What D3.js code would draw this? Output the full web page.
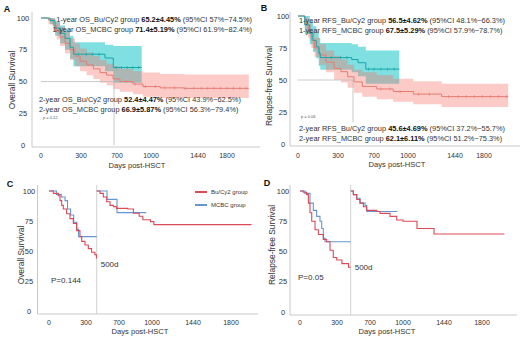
<!DOCTYPE html>
<html>
<head>
<meta charset="utf-8">
<script src="https://cdn.jsdelivr.net/npm/d3@7"></script>
<style>
  body { margin: 0; background: #fff; }
  svg { display: block; font-family: "Liberation Sans", Arial, sans-serif; }
</style>
</head>
<body>
<div id="chart"></div>
<script>
// ---- values (days post-HSCT, survival %) ----
var tickDays = [0, 300, 700, 1000, 1440, 1800];
var yTicks = [0, 25, 50, 75, 100];

// A: overall survival  [day, estimate, lower CI, upper CI]
var osBuCy2 = [[0,100,100,100],[13,100,100,100],[55,98.5,95,100],[92,94,89,99],[117,89,83,96],[143,85,78,93],[180,80,72,89],[218,75,67,84],[255,70,62,80],[293,66,58,76],[363,63,55,73],[437,60,52,70],[511,57,49,67],[585,55,47,64],[656,52,44,62],[726,50,42,60],[841,48,40,58],[929,46,38,57],[1086,45,37,56],[1306,44.6,37,55.5],[2070,44.6,37,55.5]];
var osMCBC = [[0,100,100,100],[68,98,95,100],[105,92,86,97],[143,88,80,94],[180,84,75,91],[218,77,68,86],[243,71.5,62,81],[567,68.5,58,79],[659,61,49,78],[918,61,49,78]];
var osBuCens = [780, 860, 950, 1040, 1130, 1220, 1320, 1400, 1480, 1560, 1640, 1720, 1800, 1880, 1960, 2040];
var osMCBCCens = [280, 360, 430, 500, 690, 740, 790, 840, 890];
var osMedianDay = 667;

// B: relapse-free survival
var rfsBuCy2 = [[0,100,100,100],[51,94,90,99],[76,88,83,94],[100,81,75,88],[124,75,68,83],[161,69.5,62,78],[210,64,56,73],[271,59,50,69],[333,56.5,48,66],[407,52.5,44,62],[478,48.5,40,58],[570,45,37,56],[724,43,35,54],[870,41,33,51],[1050,39,31,49],[1315,37,29,47],[2100,37,29,47]];
var rfsMCBC = [[0,100,100,100],[15,100,100,100],[51,93,86,100],[88,86.5,78,96],[112,81,72,92],[137,76,67,88],[156,71,61,83],[167,67.5,58,79],[452,66,56,78],[523,63.5,53,76],[609,58.5,47,73],[923,58.5,47,73]];
var rfsBuCens = [760, 840, 930, 1100, 1200, 1380, 1480, 1580, 1680, 1780, 1880, 1980, 2080];
var rfsMCBCCens = [250, 330, 400, 640, 700, 760, 820, 880];
var rfsMedianDay = 467;

var osNotesTop = [["1-year OS_Bu/Cy2 group ", "65.2±4.45%", " (95%CI 57%~74.5%)"],
                  ["1-year OS_MCBC group ", "71.4±5.19%", " (95%CI 61.9%~82.4%)"]];
var osNotesBottom = [["2-year OS_Bu/Cy2 group ", "52.4±4.47%", " (95%CI 43.9%~62.5%)"],
                     ["2-year OS_MCBC group ", "66.9±5.87%", " (95%CI 56.3%~79.4%)"]];
var rfsNotesTop = [["1-year RFS_Bu/Cy2 group ", "56.5±4.62%", " (95%CI 48.1%~66.3%)"],
                   ["1-year RFS_MCBC group ", "67.5±5.29%", " (95%CI 57.9%~78.7%)"]];
var rfsNotesBottom = [["2-year RFS_Bu/Cy2 group ", "45.6±4.69%", " (95%CI 37.2%~55.7%)"],
                      ["2-year RFS_MCBC group ", "62.1±6.11%", " (95%CI 51.2%~75.3%)"]];

// C / D: landmark analysis split at 500d  [day, survival]
var osCutDay = 430;
var osBuEarly = [[0,100],[35,98],[76,96],[89,92],[103,88],[116,85],[143,81],[170,77],[197,73],[224,67],[251,62],[265,58],[292,55],[328,52],[368,49],[408,47],[426,44],[430,44]];
var osMCBCEarly = [[0,100],[60,97],[100,95],[130,92],[150,85],[175,80],[200,74],[225,68],[240,62],[430,62]];
var osBuLate = [[430,100],[470,98],[510,95],[551,91],[591,88],[632,87],[672,85.5],[780,85],[831,81.5],[883,79],[917,76],[986,74.5],[1020,72],[1995,72]];
var osMCBCLate = [[430,100],[555,93],[676,82],[948,82]];

var rfsCutDay = 466;
var rfsBuEarly = [[0,100],[27,99],[54,97],[68,90],[81,82],[95,75],[122,68],[149,64],[189,60],[216,58],[243,51],[270,45],[298,43],[359,40],[440,37],[466,37]];
var rfsMCBCEarly = [[0,100],[40,98],[81,90],[108,84],[135,79],[162,75],[176,69],[189,61],[203,58],[466,58]];
var rfsBuLate = [[466,100],[498,97],[539,93],[579,90],[620,87],[660,84],[761,83],[791,81.5],[882,79],[943,76],[1000,75],[1150,69],[1333,64.5],[2012,64.5]];
var rfsMCBCLate = [[466,100],[498,97],[539,94],[579,90],[640,88],[660,83],[948,83]];

var legendLabels = ["Bu/Cy2 group", "MCBC group"];

// ---- colours ----
var redLine = "#e57c74", redFill = "rgba(248,118,109,0.38)";
var tealLine = "#17a7a9", tealFill = "rgba(0,191,196,0.5)";
var red2 = "#dc4a58", blue2 = "#6497d1";
var axisCol = "#c9c9c9", refCol = "#bdbdbd", textCol = "#333";

var svg = d3.select("#chart").append("svg")
    .attr("width", 520)
    .attr("height", 339);

// axis tick spacing on the original figure is not even, so each panel gets a polylinear scale
var topGaps = [0, 40, 76, 110, 157, 186];
var botGaps = [0, 37, 70, 103, 144, 182];

function makeScales(p) {
  p.x = d3.scaleLinear().domain(tickDays).range(p.gaps.map(function(g) { return p.x0 + g; }));
  p.y = d3.scaleLinear().domain([0, 100]).range([p.y0, p.y100]);
}

function frame(p) {
  var g = svg.append("g");
  // axis lines
  g.append("line").attr("x1", p.axisX).attr("x2", p.axisX).attr("y1", p.axisTop).attr("y2", p.axisY)
    .attr("stroke", axisCol).attr("stroke-width", 1);
  g.append("line").attr("x1", p.axisX).attr("x2", p.axisRight).attr("y1", p.axisY).attr("y2", p.axisY)
    .attr("stroke", axisCol).attr("stroke-width", 1);
  // y ticks
  g.selectAll(".yt").data(yTicks).enter().append("text")
    .attr("x", p.yLabelX).attr("y", function(d) { return p.y(d); })
    .attr("text-anchor", "middle").attr("dominant-baseline", "central")
    .attr("font-size", 7.5).attr("fill", textCol).text(function(d) { return d; });
  // x ticks
  g.selectAll(".xt").data(tickDays).enter().append("text")
    .attr("x", function(d) { return p.x(d); }).attr("y", p.xLabelY)
    .attr("text-anchor", "middle").attr("dominant-baseline", "central")
    .attr("font-size", 7).attr("fill", textCol).text(function(d) { return d; });
  // titles
  g.append("text").attr("x", p.xTitle[0]).attr("y", p.xTitle[1])
    .attr("text-anchor", "middle").attr("dominant-baseline", "central")
    .attr("font-size", 7.6).attr("fill", textCol).text("Days post-HSCT");
  g.append("text").attr("transform", "translate(" + p.yTitle[0] + "," + p.yTitle[1] + ") rotate(-90)")
    .attr("text-anchor", "middle").attr("dominant-baseline", "central")
    .attr("font-size", 8.4).attr("fill", textCol).text(p.yName);
  g.append("text").attr("x", p.letter[0]).attr("y", p.letter[1])
    .attr("text-anchor", "middle").attr("dominant-baseline", "central")
    .attr("font-size", 9).attr("font-weight", "bold").attr("fill", "#111").text(p.id);
}

function valueAt(data, day) {
  var i = d3.bisector(function(d) { return d[0]; }).right(data, day) - 1;
  return data[Math.max(0, i)][1];
}

function notes(g, lines, x, y, anchor) {
  lines.forEach(function(l, i) {
    var t = g.append("text").attr("x", x).attr("y", y + i * p_lineGap)
      .attr("text-anchor", anchor).attr("font-size", 7.4).attr("fill", textCol);
    t.append("tspan").text(l[0]);
    t.append("tspan").attr("font-weight", "bold").attr("fill", "#111").text(l[1]);
    t.append("tspan").text(l[2]);
  });
}
var p_lineGap = 10;

function drawTop(p) {
  makeScales(p);
  frame(p);
  var x = p.x, y = p.y;
  var g = svg.append("g");
  var area = d3.area().curve(d3.curveStepAfter)
    .x(function(d) { return x(d[0]); })
    .y0(function(d) { return y(d[2]); })
    .y1(function(d) { return y(d[3]); });
  var line = d3.line().curve(d3.curveStepAfter)
    .x(function(d) { return x(d[0]); })
    .y(function(d) { return y(d[1]); });

  g.append("path").attr("d", area(p.mcbc)).attr("fill", tealFill);
  g.append("path").attr("d", area(p.bu)).attr("fill", redFill);

  // median reference lines
  g.append("line").attr("x1", x(0)).attr("x2", x(p.median)).attr("y1", y(50)).attr("y2", y(50))
    .attr("stroke", refCol).attr("stroke-width", 0.8);
  g.append("line").attr("x1", x(p.median)).attr("x2", x(p.median)).attr("y1", y(50)).attr("y2", y(p.vEnd))
    .attr("stroke", refCol).attr("stroke-width", 0.8);

  [[p.bu, p.buCens, redLine], [p.mcbc, p.mcbcCens, tealLine]].forEach(function(s) {
    g.append("path").attr("d", line(s[0])).attr("fill", "none").attr("stroke", s[2]).attr("stroke-width", 1);
    g.selectAll(null).data(s[1]).enter().append("line")
      .attr("x1", function(d) { return x(d); }).attr("x2", function(d) { return x(d); })
      .attr("y1", function(d) { return y(valueAt(s[0], d)) - 1.5; })
      .attr("y2", function(d) { return y(valueAt(s[0], d)) + 1.5; })
      .attr("stroke", s[2]).attr("stroke-width", 0.7);
  });

  notes(g, p.notesTop, p.notesTopPos[0], p.notesTopPos[1], p.notesTopAnchor);
  notes(g, p.notesBottom, p.notesBottomPos[0], p.notesBottomPos[1], "start");
  g.append("text").attr("x", p.pPos[0]).attr("y", p.pPos[1]).attr("font-size", 4)
    .attr("fill", "#555").text(p.pText);
}

function drawSplit(p) {
  makeScales(p);
  frame(p);
  var x = p.x, y = p.y;
  var g = svg.append("g");
  var line = d3.line().curve(d3.curveStepAfter)
    .x(function(d) { return x(d[0]); })
    .y(function(d) { return y(d[1]); });

  g.append("line").attr("x1", x(p.cut)).attr("x2", x(p.cut)).attr("y1", p.cutTop).attr("y2", p.axisY)
    .attr("stroke", "#d0d0d0").attr("stroke-width", 1);

  [[p.mcbcEarly, blue2], [p.mcbcLate, blue2], [p.buEarly, red2], [p.buLate, red2]].forEach(function(s) {
    g.append("path").attr("d", line(s[0])).attr("fill", "none").attr("stroke", s[1]).attr("stroke-width", 1.1);
  });

  g.append("text").attr("x", x(p.cut) + 4).attr("y", p.cutLabelY).attr("dominant-baseline", "central")
    .attr("font-size", 8).attr("fill", textCol).text("500d");
  g.append("text").attr("x", p.pPos[0]).attr("y", p.pPos[1]).attr("dominant-baseline", "central")
    .attr("font-size", 8).attr("fill", textCol).text(p.pText);

  if (p.legend) {
    var lg = g.selectAll(".lg").data(legendLabels).enter().append("g")
      .attr("transform", function(d, i) { return "translate(" + p.legend[0] + "," + (p.legend[1] + i * 13) + ")"; });
    lg.append("line").attr("x1", 0).attr("x2", 12).attr("y1", 0).attr("y2", 0)
      .attr("stroke", function(d, i) { return i ? blue2 : red2; }).attr("stroke-width", 2);
    lg.append("text").attr("x", 16).attr("y", 0).attr("dominant-baseline", "central")
      .attr("font-size", 6).attr("fill", textCol).text(function(d) { return d; });
  }
}

drawTop({
  id: "A", yName: "Overall Survival", gaps: topGaps, x0: 41, y0: 145, y100: 18,
  axisX: 32, axisY: 147, axisTop: 12, axisRight: 260, yLabelX: 23, xLabelY: 155,
  xTitle: [137, 165], yTitle: [12, 80], letter: [7, 9],
  bu: osBuCy2, mcbc: osMCBC, buCens: osBuCens, mcbcCens: osMCBCCens,
  median: osMedianDay, vEnd: 0,
  notesTop: osNotesTop, notesTopPos: [252, 21.5], notesTopAnchor: "end",
  notesBottom: osNotesBottom, notesBottomPos: [39, 101.5],
  pText: "p = 0.12", pPos: [43, 119]
});

drawTop({
  id: "B", yName: "Relapse-free Survival", gaps: topGaps, x0: 298, y0: 144, y100: 16,
  axisX: 290, axisY: 146, axisTop: 12, axisRight: 520, yLabelX: 283, xLabelY: 155,
  xTitle: [397, 164], yTitle: [269, 86], letter: [264, 8],
  bu: rfsBuCy2, mcbc: rfsMCBC, buCens: rfsBuCens, mcbcCens: rfsMCBCCens,
  median: rfsMedianDay, vEnd: 17,
  notesTop: rfsNotesTop, notesTopPos: [299, 22.5], notesTopAnchor: "start",
  notesBottom: rfsNotesBottom, notesBottomPos: [299, 130.5],
  pText: "p = 0.06", pPos: [301, 118]
});

drawSplit({
  id: "C", yName: "Overall Survival", gaps: botGaps, x0: 49, y0: 311, y100: 191,
  axisX: 37.5, axisY: 314, axisTop: 185, axisRight: 258, yLabelX: 29, xLabelY: 322,
  xTitle: [140, 331], yTitle: [21, 255], letter: [10, 184],
  cut: osCutDay, cutTop: 185, cutLabelY: 264,
  buEarly: osBuEarly, mcbcEarly: osMCBCEarly, buLate: osBuLate, mcbcLate: osMCBCLate,
  pText: "P=0.144", pPos: [51, 280], legend: [195, 192]
});

drawSplit({
  id: "D", yName: "Relapse-free Survival", gaps: botGaps, x0: 300, y0: 312, y100: 191,
  axisX: 290, axisY: 315, axisTop: 185, axisRight: 517, yLabelX: 283, xLabelY: 322,
  xTitle: [387, 331], yTitle: [272, 245], letter: [267, 183],
  cut: rfsCutDay, cutTop: 185, cutLabelY: 267,
  buEarly: rfsBuEarly, mcbcEarly: rfsMCBCEarly, buLate: rfsBuLate, mcbcLate: rfsMCBCLate,
  pText: "P=0.05", pPos: [298, 277]
});
</script>
</body>
</html>
